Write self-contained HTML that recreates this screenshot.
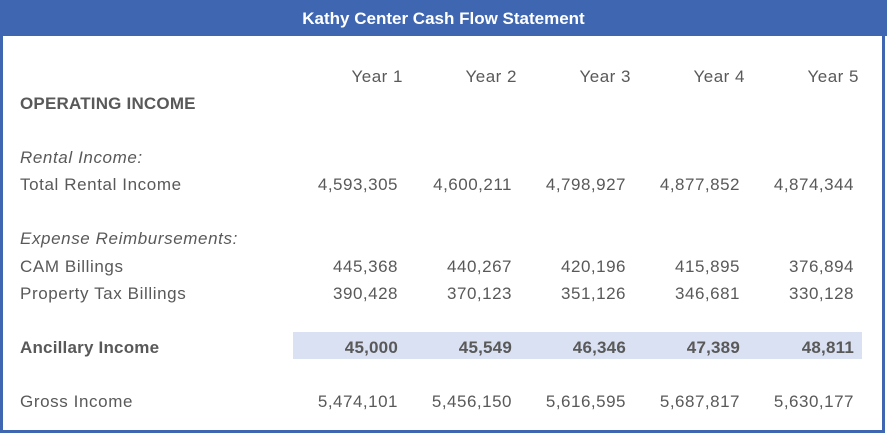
<!DOCTYPE html>
<html><head><style>
body{margin:0;width:887px;height:435px;background:#fff;position:relative;overflow:hidden;font-family:"Liberation Sans",sans-serif;color:#595959}
.hdr{position:absolute;left:0;top:0;width:887px;height:36px;background:#3f66b0;color:#fff;font-weight:bold;font-size:17px;text-align:center;line-height:37px}
.frame{position:absolute;left:0;top:36px;width:879px;height:394px;border-left:3px solid #3f66b0;border-right:3px solid #3f66b0;border-bottom:3px solid #3f66b0}
.t{position:absolute;font-size:17px;line-height:20px;white-space:nowrap;letter-spacing:0.6px}
.n{position:absolute;font-size:17px;line-height:20px;white-space:nowrap;text-align:right;width:110px;letter-spacing:0.5px}
.b{font-weight:bold;letter-spacing:0.2px}
.i{font-style:italic}
.band{position:absolute;left:293px;top:332px;width:569px;height:27px;background:#d9e1f2}
</style></head><body>
<div class="hdr">Kathy Center Cash Flow Statement</div>
<div class="frame"></div>
<div class="band"></div>
<div class="n" style="left:293px;top:67px">Year 1</div>
<div class="n" style="left:407px;top:67px">Year 2</div>
<div class="n" style="left:521px;top:67px">Year 3</div>
<div class="n" style="left:635px;top:67px">Year 4</div>
<div class="n" style="left:749px;top:67px">Year 5</div>
<div class="t b" style="left:20px;top:94px">OPERATING INCOME</div>
<div class="t i" style="left:20px;top:148px">Rental Income:</div>
<div class="t" style="left:20px;top:175px">Total Rental Income</div>
<div class="t i" style="left:20px;top:229px">Expense Reimbursements:</div>
<div class="t" style="left:20px;top:257px">CAM Billings</div>
<div class="t" style="left:20px;top:284px">Property Tax Billings</div>
<div class="t b" style="left:20px;top:338px">Ancillary Income</div>
<div class="t" style="left:20px;top:392px">Gross Income</div>

<div class="n" style="left:288px;top:175px">4,593,305</div>
<div class="n" style="left:402px;top:175px">4,600,211</div>
<div class="n" style="left:516px;top:175px">4,798,927</div>
<div class="n" style="left:630px;top:175px">4,877,852</div>
<div class="n" style="left:744px;top:175px">4,874,344</div>

<div class="n" style="left:288px;top:257px">445,368</div>
<div class="n" style="left:402px;top:257px">440,267</div>
<div class="n" style="left:516px;top:257px">420,196</div>
<div class="n" style="left:630px;top:257px">415,895</div>
<div class="n" style="left:744px;top:257px">376,894</div>

<div class="n" style="left:288px;top:284px">390,428</div>
<div class="n" style="left:402px;top:284px">370,123</div>
<div class="n" style="left:516px;top:284px">351,126</div>
<div class="n" style="left:630px;top:284px">346,681</div>
<div class="n" style="left:744px;top:284px">330,128</div>

<div class="n b" style="left:288px;top:338px">45,000</div>
<div class="n b" style="left:402px;top:338px">45,549</div>
<div class="n b" style="left:516px;top:338px">46,346</div>
<div class="n b" style="left:630px;top:338px">47,389</div>
<div class="n b" style="left:744px;top:338px">48,811</div>

<div class="n" style="left:288px;top:392px">5,474,101</div>
<div class="n" style="left:402px;top:392px">5,456,150</div>
<div class="n" style="left:516px;top:392px">5,616,595</div>
<div class="n" style="left:630px;top:392px">5,687,817</div>
<div class="n" style="left:744px;top:392px">5,630,177</div>
</body></html>
